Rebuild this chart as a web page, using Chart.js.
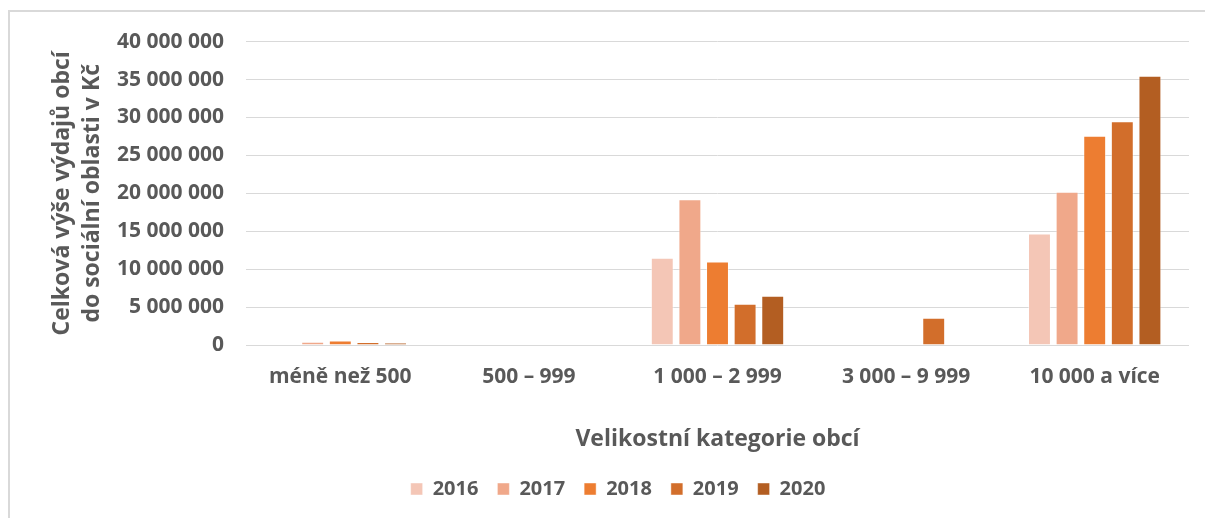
<!DOCTYPE html>
<html lang="cs">
<head>
<meta charset="utf-8">
<script src="https://cdn.jsdelivr.net/npm/chart.js@4"></script>
<style>
  html, body { margin: 0; padding: 0; background: #fff; overflow: hidden; }
  #frame {
    position: absolute; left: 8px; top: 10px;
    width: 1240px; height: 540px;
    border: 2px solid #d9d9d9; box-sizing: border-box;
  }
  #wrap { position: absolute; left: 10px; top: 7px; width: 1220px; height: 511px; }
</style>
</head>
<body>
<div id="frame"></div>
<div id="wrap"><canvas id="expenseChart"></canvas></div>
<script>
const categories = ["méně než 500", "500 – 999", "1 000 – 2 999", "3 000 – 9 999", "10 000 a více"];
const years = ["2016", "2017", "2018", "2019", "2020"];
const v2016 = [0, 0, 11500000, 0, 14700000];
const v2017 = [430000, 0, 19200000, 0, 20200000];
const v2018 = [600000, 0, 11000000, 0, 27600000];
const v2019 = [400000, 0, 5450000, 3600000, 29500000];
const v2020 = [300000, 0, 6500000, 0, 35500000];
const colors = ["#f4c6b6", "#f0a88a", "#ed7d31", "#d26e2b", "#b35e22"];
const yTicks = [0, 5000000, 10000000, 15000000, 20000000, 25000000, 30000000, 35000000, 40000000];

const grey = "#595959";
const font = (size) => ({ family: "'Open Sans', Lato, sans-serif", size, weight: "bold" });
const fmt = (n) => n.toString().replace(/\B(?=(\d{3})+(?!\d))/g, " ");

const series = [v2016, v2017, v2018, v2019, v2020];
const datasets = series.map((data, i) => ({
  label: years[i],
  data,
  backgroundColor: colors[i],
  borderColor: "rgba(255,255,255,0.45)",
  borderWidth: 1,
  categoryPercentage: 0.732,
  barPercentage: 0.83
}));

new Chart(document.getElementById("expenseChart").getContext("2d"), {
  type: "bar",
  data: { labels: categories, datasets },
  options: {
    responsive: true,
    maintainAspectRatio: false,
    animation: false,
    layout: { padding: { top: 19, left: 37, right: 41, bottom: 9 } },
    plugins: {
      tooltip: { enabled: false },
      legend: {
        position: "bottom",
        labels: {
          color: grey,
          font: font(20),
          boxWidth: 12,
          boxHeight: 12,
          padding: 19
        }
      }
    },
    scales: {
      x: {
        grid: { display: false },
        border: { display: false },
        ticks: { color: grey, font: font(21), padding: 11, maxRotation: 0 },
        title: {
          display: true,
          text: "Velikostní kategorie obcí",
          color: grey,
          font: font(23),
          padding: { top: 0, bottom: 7 }
        },
        afterFit: (s) => { s.height = 115; }
      },
      y: {
        min: 0,
        max: 40000000,
        afterBuildTicks: (s) => { s.ticks = yTicks.map((value) => ({ value })); },
        grid: { color: "#d9d9d9", lineWidth: 1, drawTicks: false },
        border: { display: false },
        ticks: { color: grey, font: font(21), padding: 22, callback: (v) => fmt(v) },
        title: {
          display: true,
          text: ["Celková výše výdajů obcí", "do sociální oblasti v Kč"],
          color: grey,
          font: { ...font(23), lineHeight: 1.304 },
          padding: { top: 0, bottom: 0 }
        },
        afterFit: (s) => { s.width = 199; }
      }
    }
  }
});
</script>
</body>
</html>
